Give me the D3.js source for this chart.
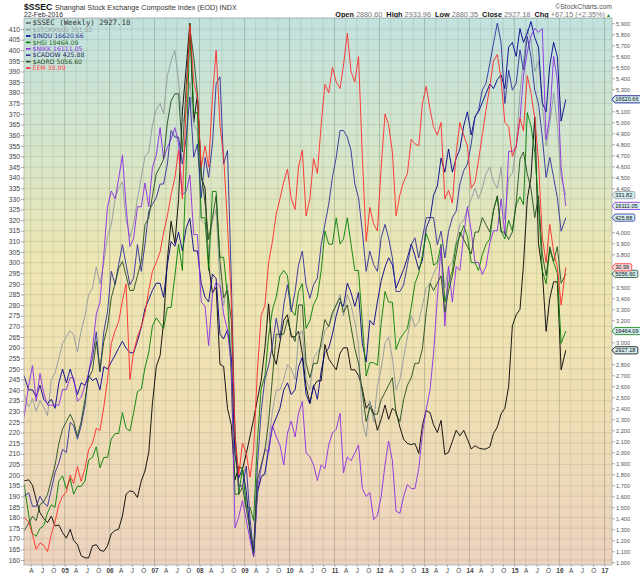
<!DOCTYPE html>
<html>
<head>
<meta charset="utf-8">
<title>$SSEC</title>
<script src="https://d3js.org/d3.v7.min.js"></script>
<style>
  body { margin: 0; background: #fff; }
  svg { font-family: "Liberation Sans", Arial, sans-serif; }
  .axis path { display: none; }
  .axis line { stroke: #777; stroke-width: 0.6; }
</style>
</head>
<body>
<div id="chart"></div>
<script>
// monthly closes, Feb 2004 .. 22 Feb 2016
// SSEC is on the right axis, the overlays are read on the left axis scale
var ssec = [1740,1750,1700,1570,1450,1400,1360,1420,1330,1340,1270,
  1220,1300,1200,1160,1060,1040,1040,1150,1160,1110,1100,1150,
  1260,1290,1300,1420,1620,1650,1640,1590,1740,1830,2000,2450,
  2780,2880,3180,3750,4100,3900,4300,5100,5500,5900,5000,5250,
  4500,4400,3700,3450,3500,2800,2780,2400,2250,1750,1870,1850,
  1990,2150,2300,2480,2650,2950,3350,2900,2800,3000,3200,3250,
  3050,3050,3100,2900,2600,2450,2600,2650,2650,2980,2850,2800,
  2750,2900,2950,2950,2750,2750,2700,2580,2400,2450,2350,2200,
  2300,2430,2300,2400,2370,2230,2120,2080,2070,2080,1990,2250,
  2380,2360,2250,2180,2290,1980,2000,2100,2200,2150,2200,2120,
  2030,2060,2040,2030,2030,2050,2170,2230,2350,2400,2600,3150,
  3250,3300,3700,4300,4500,5050,3900,3650,3100,3400,3550,3550,
  2750,2927.18];

var stoxx = [238,232,236,230,235,232,228,245,248,255,262,
  265,268,266,258,268,275,285,288,298,290,300,312,
  318,330,335,338,320,312,318,330,340,350,352,365,
  372,375,370,388,395,400,385,365,372,385,365,362,
  320,318,305,320,325,290,280,290,255,210,195,195,
  190,175,162,190,200,200,215,230,240,240,245,252,
  250,245,265,268,245,240,255,258,260,268,270,275,
  280,285,275,285,280,272,262,225,218,235,225,242,
  250,262,265,255,240,245,255,265,275,270,272,280,
  288,290,295,298,305,288,298,300,310,318,320,325,
  330,335,330,335,342,345,338,335,345,320,340,342,
  355,380,395,410,405,390,395,375,355,365,380,365,
  340,331.8];

var indu = [246.7,240.1,240.1,236.8,242.3,235.7,233.6,235.7,231.4,243.4,249.9,
  243.4,249.9,244.5,237.9,243.4,242.3,246.7,244.5,245.6,240.1,251.0,249.9,
  253.2,256.5,259.7,263.0,259.7,257.6,257.6,263.0,269.6,278.3,282.6,287.0,
  290.3,290.3,283.7,299.0,309.9,307.7,314.3,305.5,316.4,320.8,305.5,305.5,
  290.3,283.7,281.5,294.6,292.5,266.3,264.1,268.5,255.4,209.6,198.7,203.0,
  192.1,172.5,161.6,192.1,198.7,200.9,211.8,222.7,227.0,231.4,240.1,243.4,
  237.9,240.1,251.0,255.4,237.9,233.6,242.3,235.7,248.8,257.6,259.7,266.3,
  275.0,281.5,279.4,290.3,285.9,279.4,285.9,261.9,253.2,272.8,270.6,281.5,
  291.4,297.9,302.3,299.0,288.1,292.5,296.8,302.3,308.8,303.4,296.8,301.2,
  316.4,320.8,331.7,336.1,349.2,342.6,353.5,342.6,349.2,353.5,364.4,371.0,
  360.1,368.8,371.0,375.3,379.7,384.1,381.9,386.2,388.4,381.9,401.5,403.7,
  397.1,410.2,403.7,408.0,413.5,405.9,401.5,375.3,371.0,392.8,403.7,397.1,
  366.6,376.9];

var hsi = [195.9,181.1,172.4,171.2,174.9,176.1,182.3,186.0,184.8,197.2,199.6,
  193.5,198.4,191.0,194.7,194.7,197.2,207.1,208.3,213.3,203.4,208.3,208.3,
  217.0,219.5,219.5,229.4,222.0,220.7,229.4,239.3,240.5,250.4,257.9,270.3,
  274.0,271.5,269.0,278.9,278.9,293.8,308.7,296.3,345.9,412.8,370.6,370.6,
  321.1,321.1,296.3,333.5,333.5,302.5,302.5,283.9,246.7,191.0,191.0,203.4,
  184.8,184.8,178.6,215.8,240.5,246.7,265.3,277.7,283.9,293.8,296.3,293.8,
  277.7,275.2,286.4,290.1,269.0,272.7,280.2,283.9,296.3,314.9,308.7,308.7,
  321.1,308.7,311.2,321.1,308.7,296.3,296.3,271.5,246.7,252.9,252.9,251.7,
  271.5,286.4,281.4,281.4,259.1,264.1,266.6,269.0,278.9,290.1,295.1,303.7,
  313.6,308.7,298.8,300.0,308.7,281.4,290.1,296.3,308.7,312.4,317.4,312.4,
  300.0,300.0,296.3,303.7,308.7,311.2,324.8,331.0,314.9,311.2,319.9,314.9,
  327.3,331.0,327.3,370.6,364.4,352.0,327.3,296.3,290.1,306.2,300.0,295.1,
  262.0,267.8];

var nikk = [227.2,242.2,251.5,234.7,247.8,238.5,232.9,232.9,232.9,232.9,240.3,
  240.3,245.9,245.9,234.7,236.6,242.2,247.8,259.0,275.8,281.4,303.8,326.3,
  333.7,330.0,339.3,350.5,326.3,307.6,311.3,326.3,326.3,337.5,326.3,344.9,
  350.5,363.6,348.7,354.3,358.0,363.6,356.1,331.9,333.7,341.2,313.2,313.2,
  281.4,279.6,260.9,285.2,290.8,288.9,275.8,268.3,251.5,175.0,180.5,188.0,
  178.7,169.3,161.9,193.6,203.0,212.3,210.4,223.5,217.9,214.2,204.8,219.8,
  225.4,217.9,229.1,234.7,210.4,208.6,204.8,197.4,204.8,203.0,214.2,219.8,
  221.6,229.1,201.1,208.6,206.7,210.4,214.2,193.6,189.9,191.8,179.0,181.0,
  189.9,204.8,216.0,206.7,183.0,182.0,189.9,195.5,193.6,193.6,203.0,219.8,
  231.0,240.3,257.1,283.3,307.6,270.2,298.2,281.4,298.2,296.4,313.2,326.3,
  315.0,300.1,300.1,294.5,298.2,309.4,315.0,315.0,330.0,313.2,352.4,352.4,
  354.3,367.3,387.9,399.1,406.6,410.3,408.4,410.3,358.0,369.2,397.2,386.0,
  344.9,326.7];

var cadow = [190.0,191.6,185.3,185.3,190.0,186.9,185.3,193.2,201.1,205.8,212.1,
  210.6,224.8,223.2,216.9,223.2,232.7,248.5,254.8,267.4,248.5,267.4,276.9,
  295.9,289.6,299.0,308.5,299.0,289.6,292.7,308.5,295.9,308.5,324.3,327.5,
  330.6,337.0,337.0,346.4,362.2,359.1,359.1,346.4,359.1,378.0,349.6,355.9,
  330.6,349.6,340.1,355.9,384.4,387.5,346.4,352.8,292.7,220.0,194.8,194.8,
  204.2,179.0,163.2,204.2,229.5,245.3,251.6,261.1,273.8,264.3,280.1,289.6,
  276.9,286.4,299.0,305.4,289.6,283.2,289.6,292.7,308.5,318.0,327.5,340.1,
  349.6,362.2,362.2,359.1,352.8,337.0,330.6,314.8,295.9,305.4,299.0,295.9,
  311.7,318.0,311.7,302.2,286.4,286.4,289.6,299.0,308.5,311.7,302.2,311.7,
  321.2,321.2,321.2,308.5,314.8,302.2,314.8,321.2,324.3,337.0,343.3,346.4,
  355.9,368.6,371.7,381.2,384.4,393.8,403.3,412.8,403.3,374.9,390.7,381.2,
  384.4,400.2,390.7,406.5,397.0,381.2,374.9,359.1,340.1,349.6,340.1,330.6,
  314.8,321.2];

var aord = [173.7,177.2,180.6,178.5,186.1,187.4,190.9,197.7,204.6,214.9,221.7,
  225.2,228.6,225.2,218.3,225.2,235.5,245.8,249.2,262.9,249.2,262.9,269.8,
  283.5,290.3,297.2,300.6,293.8,286.9,286.9,293.8,300.6,317.8,321.2,331.5,
  341.8,345.2,348.7,365.8,376.1,379.5,379.5,352.1,383.0,410.4,396.7,379.5,
  341.8,328.1,310.9,321.2,331.5,300.6,283.5,286.9,273.2,218.3,190.9,194.3,
  184.0,173.7,163.4,197.7,204.6,211.5,225.2,245.8,266.3,266.3,266.3,273.2,
  266.3,262.9,280.1,280.1,252.6,245.8,252.6,252.6,262.9,273.2,269.8,276.6,
  280.1,283.5,276.6,280.1,269.8,259.5,252.6,238.9,225.2,232.0,228.6,228.6,
  235.5,238.9,242.3,245.8,228.6,225.2,235.5,242.3,245.8,252.6,252.6,259.5,
  276.6,290.3,286.9,290.3,293.8,276.6,286.9,293.8,304.1,314.4,310.9,307.5,
  304.1,314.4,314.4,321.2,317.8,314.4,324.6,331.5,314.4,314.4,310.9,314.4,
  328.1,348.7,352.1,341.8,334.9,321.2,331.5,304.1,293.8,307.5,300.6,307.5,
  290.3,294.7];

var eem = [180,178,172,165,168,167,164,172,178,186,190,
  192,200,196,204,197,203,212,215,222,221,232,245,
  262,268,272,282,290,245,258,265,270,276,287,296,
  300,305,314,322,332,340,353,330,375,412,385,378,
  345,355,345,378,400,365,350,318,282,218,200,215,
  210,199,212,249,275,280,300,310,323,330,338,344,
  330,325,345,353,322,330,349,342,365,384,380,392,
  385,382,393,408,390,385,397,350,310,326,318,315,
  345,370,365,352,322,332,338,342,358,356,355,375,
  383,372,364,360,366,330,334,328,352,366,360,355,
  335,338,348,360,372,383,395,398,386,366,364,350,
  355,368,362,388,380,368,348,312,300,318,305,298,
  280,297.8];

var seriesNames = ["$STOXX600", "$INDU", "$HSI", "$NIKK", "$CADOW", "$AORD", "EEM"];
var seriesLast = ["331.82", "16620.66", "19464.09", "16111.05", "425.88", "5056.60", "30.99"];
var seriesColors = ["#8f999e", "#00008b", "#008000", "#8a2be2", "#2e2e9c", "#1e4d1e", "#ff2a2a"];
var legendText = ["#9aa1a5", "#2a2a8a", "#1a6a1a", "#8a2be2", "#2a2a6a", "#1e4d1e", "#ff4a4a"];
var seriesData = [stoxx, indu, hsi, nikk, cadow, aord, eem];
var monthLetters = {3: "A", 6: "J", 9: "O"};

var margin = {top: 18, left: 24},
    width = 588, height = 547;

var firstDate = new Date(2004, 1, 6), lastDate = new Date(2016, 1, 22);
var dates = ssec.map(function(d, i) {
  if (i == 0) return firstDate;
  if (i == ssec.length - 1) return lastDate;
  return new Date(2004, 1 + i, 15);
});

var x = d3.scaleTime().domain([firstDate, new Date(2017, 2, 3)]).range([0, width]);
var yL = d3.scaleLinear().domain([160, 410]).range([542, 11]);
var yR = d3.scaleLinear().domain([1000, 5900]).range([544.3, 5.3]);

var svg = d3.select("#chart").append("svg")
    .attr("width", 640).attr("height", 576);

var defs = svg.append("defs");
var grad = defs.append("linearGradient").attr("id", "bg")
    .attr("x1", 0).attr("y1", 0).attr("x2", 0).attr("y2", 1);
[["0%", "#c2e2df"], ["22%", "#d3e5cc"], ["45%", "#eee6b2"], ["70%", "#efdfb4"], ["100%", "#edd2bf"]]
  .forEach(function(s) { grad.append("stop").attr("offset", s[0]).attr("stop-color", s[1]); });
defs.append("clipPath").attr("id", "clip").append("rect").attr("width", width).attr("height", height);

// header
svg.append("text").attr("x", 24).attr("y", 9.5).attr("font-size", 8.6).attr("font-weight", "bold")
    .attr("fill", "#111").text("$SSEC");
svg.append("text").attr("x", 55).attr("y", 9.5).attr("font-size", 7.2).attr("fill", "#333")
    .text("Shanghai Stock Exchange Composite Index (EOD)  INDX");
svg.append("text").attr("x", 24).attr("y", 16.5).attr("font-size", 6.8).attr("fill", "#333")
    .text("22-Feb-2016");
svg.append("text").attr("x", 612).attr("y", 8.5).attr("font-size", 6.8).attr("fill", "#555")
    .attr("text-anchor", "end").text("\u00A9StockCharts.com");
var ohlc = svg.append("text").attr("x", 611).attr("y", 16.5).attr("font-size", 7.3)
    .attr("text-anchor", "end");
[["Open ", 1], ["2880.60  ", 0], ["High ", 1], ["2933.96  ", 0], ["Low ", 1], ["2880.35  ", 0],
 ["Close ", 1], ["2927.18  ", 0], ["Chg ", 1], ["+67.15 (+2.35%)", 0]].forEach(function(p) {
  ohlc.append("tspan").attr("font-weight", p[1] ? "bold" : "normal")
      .attr("fill", p[1] ? "#111" : "#777").attr("xml:space", "preserve").text(p[0]);
});
ohlc.append("tspan").attr("fill", "#1a8a1a").attr("font-size", 5).attr("dx", 1).text("\u25B2");

var g = svg.append("g").attr("transform", "translate(" + margin.left + "," + margin.top + ")");
g.append("rect").attr("width", width).attr("height", height).attr("fill", "url(#bg)");

// grid
var hTicks = d3.range(160, 416, 5);
g.append("g").selectAll("line").data(hTicks).enter().append("line")
    .attr("x1", 0).attr("x2", width)
    .attr("y1", function(d) { return yL(d); }).attr("y2", function(d) { return yL(d); })
    .attr("stroke", "rgba(95,105,85,0.22)").attr("stroke-width", 0.7);

var quarters = d3.timeMonth.every(3).range(new Date(2004, 3, 1), new Date(2017, 1, 1));
g.append("g").selectAll("line").data(quarters).enter().append("line")
    .attr("x1", function(d) { return x(d); }).attr("x2", function(d) { return x(d); })
    .attr("y1", 0).attr("y2", height)
    .attr("stroke", function(d) { return d.getMonth() == 0 ? "rgba(80,95,70,0.42)" : "rgba(95,105,85,0.22)"; })
    .attr("stroke-width", 0.7);

// lines
var lines = g.append("g").attr("clip-path", "url(#clip)");
lines.append("path")
    .datum(ssec)
    .attr("fill", "none").attr("stroke", "#000").attr("stroke-width", 0.9)
    .attr("stroke-linejoin", "round")
    .attr("d", d3.line().x(function(d, i) { return x(dates[i]); }).y(function(d) { return yR(d); }));

seriesData.forEach(function(arr, k) {
  lines.append("path")
      .datum(arr)
      .attr("fill", "none").attr("stroke", seriesColors[k]).attr("stroke-width", 0.9)
      .attr("stroke-linejoin", "round")
      .attr("d", d3.line().x(function(d, i) { return x(dates[i]); }).y(function(d) { return yL(d); }));
});

g.append("rect").attr("width", width).attr("height", height)
    .attr("fill", "none").attr("stroke", "#a9b0b0").attr("stroke-width", 0.8);

// end-of-line tags on the right (they hide the axis labels behind them)
var tags = seriesData.map(function(arr, k) {
  return {y: margin.top + yL(arr[arr.length - 1]), t: seriesLast[k], c: seriesColors[k],
          f: k == 6 ? "#f8dede" : "#d3edf0"};
});
tags.push({y: margin.top + yR(ssec[ssec.length - 1]), t: "2927.18", c: "#000", f: "#d3edf0"});

// axes
var axL = g.append("g").attr("class", "axis")
    .call(d3.axisLeft(yL).tickValues(d3.range(160, 411, 5)).tickSize(3).tickPadding(1));
axL.selectAll("text").attr("font-size", 6.8).attr("fill", "#444").attr("font-family", "Liberation Sans, Arial");

var rightTicks = d3.range(1000, 5901, 100).filter(function(v) {
  return !tags.some(function(t) { return Math.abs(margin.top + yR(v) - t.y) < 6; });
});
var axR = g.append("g").attr("class", "axis").attr("transform", "translate(" + width + ",0)")
    .call(d3.axisRight(yR).tickValues(rightTicks).tickSize(3).tickPadding(1));
axR.selectAll("text").attr("font-size", 5.6).attr("fill", "#555").attr("font-family", "Liberation Sans, Arial");

var xTicks = d3.timeMonth.every(3).range(new Date(2004, 3, 1), new Date(2017, 1, 1));
var axB = g.append("g").attr("class", "axis").attr("transform", "translate(0," + height + ")")
    .call(d3.axisBottom(x).tickValues(xTicks).tickSize(2).tickPadding(1)
      .tickFormat(function(d) {
        return d.getMonth() == 0 ? d3.timeFormat("%y")(d) : monthLetters[d.getMonth()];
      }));
axB.selectAll("text").attr("font-size", 6.4).attr("fill", "#444").attr("font-family", "Liberation Sans, Arial")
    .attr("font-weight", function(d) { return d.getMonth() == 0 ? "bold" : "normal"; });

// legend
var legendRows = [{t: "$SSEC (Weekly) 2927.18", c: "#333", m: "#666", big: true}];
seriesNames.forEach(function(n, k) {
  legendRows.push({t: n + " " + seriesLast[k], c: legendText[k], m: seriesColors[k], big: false});
});
var legendY = [25.2, 31.8, 38.2, 44.6, 51, 57.4, 63.8, 70.3];
var leg = svg.append("g").selectAll("g").data(legendRows).enter().append("g")
    .attr("transform", function(d, i) { return "translate(26," + legendY[i] + ")"; });
leg.append("rect").attr("x", 0).attr("y", -3).attr("width", 4.5).attr("height", 1.6)
    .attr("fill", function(d) { return d.m; });
leg.append("text").attr("x", 6.5).attr("y", 0)
    .attr("font-size", function(d) { return d.big ? 7.4 : 6.2; })
    .attr("font-family", function(d) { return d.big ? "DejaVu Sans Mono, monospace" : "DejaVu Sans, sans-serif"; })
    .attr("fill", function(d) { return d.c; })
    .text(function(d) { return d.t; });

var tag = svg.append("g").selectAll("g").data(tags).enter().append("g")
    .attr("transform", function(d) { return "translate(612," + d.y + ")"; });
tag.append("path")
    .attr("d", function(d) {
      var w = 3 + d.t.length * 3.05;
      return "M0,0 L3,-3.6 H" + w + " Q" + (w + 1.5) + ",-3.6 " + (w + 1.5) + ",-2 V2 Q" + (w + 1.5) + ",3.6 " + w + ",3.6 H3 Z";
    })
    .attr("fill", function(d) { return d.f; })
    .attr("stroke", function(d) { return d.c; }).attr("stroke-width", 0.8);
tag.append("text").attr("x", 3.2).attr("y", 2.1).attr("font-size", 5.6).attr("fill", "#111")
    .text(function(d) { return d.t; });
</script>
</body>
</html>
